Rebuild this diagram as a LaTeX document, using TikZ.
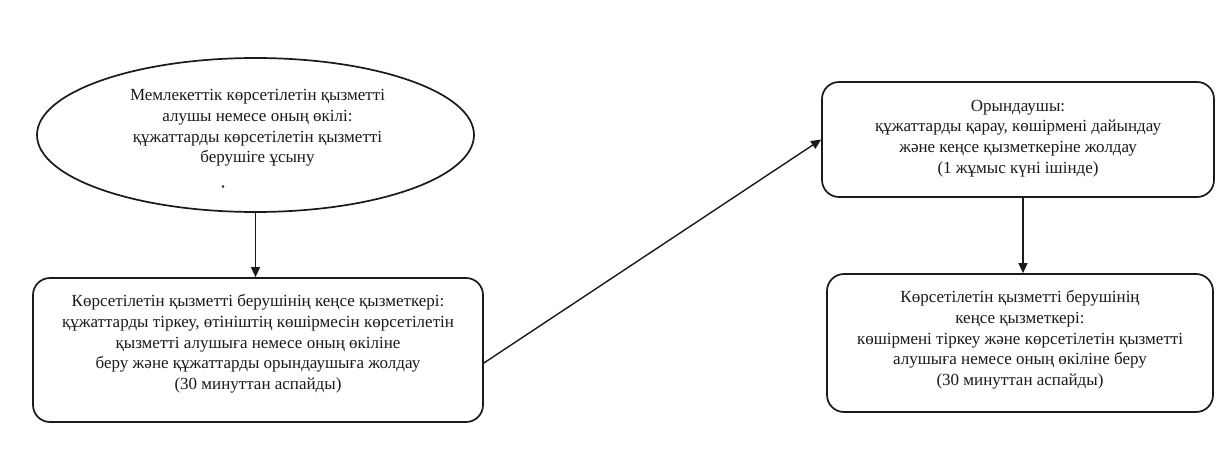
\documentclass[tikz,border=0pt]{standalone}
\usepackage{fontspec}
\setmainfont{Liberation Serif}
\usetikzlibrary{shapes.geometric,arrows.meta,calc}
\definecolor{ink}{HTML}{1A1A1A}
\tikzset{
  every picture/.style={line width=1.7pt},
  stagebox/.style={draw=ink, rounded corners=17pt, inner sep=0pt},
  stageoval/.style={draw=ink, ellipse, inner sep=0pt},
  txt/.style={align=center, text=ink, font=\fontsize{17}{20.7}\selectfont, inner sep=0pt},
  flow/.style={draw=ink, line width=1.4pt, -{Triangle[length=10pt,width=9pt]}},
}
\begin{document}
\begin{tikzpicture}[x=1pt,y=-1pt]
  \useasboundingbox[fill=white] (0,0) rectangle (1230,465);

  % outlines of the stages
  \node[stageoval, minimum width=437pt, minimum height=154pt] (e) at (255.5,135) {};
  \node[stagebox, minimum width=450pt, minimum height=144pt] (b1) at (258,350) {};
  \node[stagebox, minimum width=392pt, minimum height=115pt] (b2) at (1018,139.5) {};
  \node[stagebox, minimum width=386pt, minimum height=138pt] (b3) at (1020,343) {};

  % texts
  \node[txt] (te) at ([xshift=2pt,yshift=7pt]e.center)
    {Мемлекеттік көрсетілетін қызметті\\
     алушы немесе оның өкілі:\\
     құжаттарды көрсетілетін қызметті\\
     берушіге ұсыну};
  \fill[ink] (223,186.5) circle (1.4pt);

  \node[txt] (t1) at ([yshift=6pt]b1.center)
    {Көрсетілетін қызметті берушінің кеңсе қызметкері:\\
     құжаттарды тіркеу, өтініштің көшірмесін көрсетілетін\\
     қызметті алушыға немесе оның өкіліне\\
     беру және құжаттарды орындаушыға жолдау\\
     (30 минуттан аспайды)};

  \node[txt] (t2) at ([yshift=1pt]b2.center)
    {Орындаушы:\\
     құжаттарды қарау, көшірмені дайындау\\
     және кеңсе қызметкеріне жолдау\\
     (1 жұмыс күні ішінде)};

  \node[txt] (t3) at ([yshift=3pt]b3.center)
    {Көрсетілетін қызметті берушінің\\
     кеңсе қызметкері:\\
     көшірмені тіркеу және көрсетілетін қызметті\\
     алушыға немесе оның өкіліне беру\\
     (30 минуттан аспайды)};

  % connectors
  \draw[flow] (e.south) -- (e.south |- b1.north);
  \draw[flow] ([yshift=-13pt]b1.east) -- (b2.west);
  \draw[flow] ([xshift=5pt]b2.south) -- ([xshift=5pt]b2.south |- b3.north);
\end{tikzpicture}
\end{document}
